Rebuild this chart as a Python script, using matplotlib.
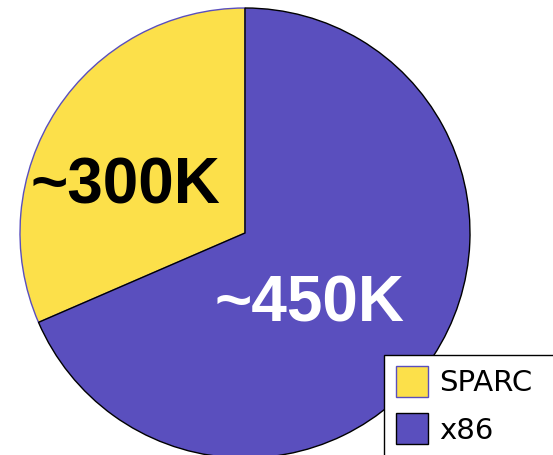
import matplotlib
matplotlib.use('Agg')
import matplotlib.pyplot as plt

plt.rcParams['font.family'] = ['DejaVu Sans']

# 数据
names = ['SPARC', 'x86']
shares = [31.5, 68.5]          # 饼图中读出的比例
labels = ['~300K', '~450K']
colors = ['#FCE04A', '#5A4FBE']
edges = ['#5A4FBE', 'black']
label_colors = ['black', 'white']
label_pos = [(-119.5, 30), (64.5, -89)]

fig = plt.figure(figsize=(5.53, 4.55), dpi=100)
ax = fig.add_axes([0, 0, 1, 1])

wedges, _ = ax.pie(shares, colors=colors, startangle=90, counterclock=True,
                   radius=225, center=(0, 0), frame=True)
for w, ec in zip(wedges, edges):
    w.set_edgecolor(ec)
    w.set_linewidth(1)

for t, c, (x, y) in zip(labels, label_colors, label_pos):
    ax.text(x, y, t, color=c, fontsize=46, fontweight='bold',
            family=['Liberation Sans', 'DejaVu Sans'],
            ha='center', va='baseline')

ax.set_xlim(-245, 553 - 245)
ax.set_ylim(-(455 - 233), 233)
ax.set_aspect('equal')
ax.axis('off')

# 图例框伸出图外
leg = fig.legend(wedges, names, loc='upper left', mode='expand',
                 bbox_to_anchor=(384 / 553, 0, 190 / 553, 1 - 354.5 / 455),
                 fontsize=21, fancybox=False, framealpha=1,
                 edgecolor='black', handlelength=1.1, handleheight=1.25,
                 handletextpad=0.4, labelspacing=0.55, borderpad=0.4,
                 borderaxespad=0)
leg.get_frame().set_linewidth(1)

fig.savefig('out.png', dpi=100)
